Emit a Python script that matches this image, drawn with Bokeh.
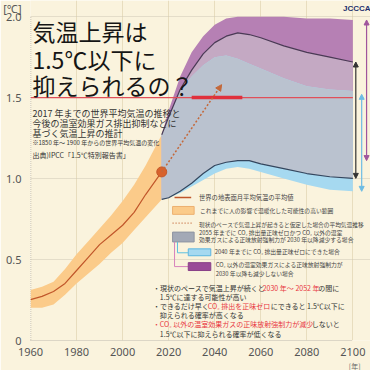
from bokeh.plotting import figure
from bokeh.models import Range1d, FixedTicker, Label, Arrow, NormalHead, CustomJSTickFormatter, Title
from bokeh.embed import file_html
from bokeh.resources import INLINE

# ---------------- data ----------------
x_ticks = [1960, 1980, 2000, 2020, 2040, 2060, 2080, 2100]
y_ticks = [0, 0.5, 1.0, 1.5, 2.0]
y_unit = "[℃]"
x_unit = "[年]"

obs_years = [1960, 1965, 1970, 1975, 1980, 1985, 1990, 1995, 2000, 2005, 2010, 2017]
obs_mean = [0.25, 0.27, 0.30, 0.35, 0.43, 0.51, 0.59, 0.65, 0.71, 0.79, 0.90, 1.04]
band_upper = [0.31, 0.33, 0.36, 0.44, 0.53, 0.61, 0.69, 0.77, 0.86, 0.96, 1.08, 1.27]
band_lower = [0.20, 0.20, 0.22, 0.28, 0.35, 0.41, 0.47, 0.54, 0.60, 0.68, 0.76, 0.87]

proj_years = [2017, 2020, 2025, 2030, 2035, 2040, 2045, 2050, 2055, 2060, 2070, 2080, 2090, 2100]
gray_top = [1.27, 1.38, 1.55, 1.67, 1.77, 1.84, 1.88, 1.90, 1.89, 1.87, 1.82, 1.78, 1.75, 1.72]
gray_bottom = [0.87, 0.88, 0.92, 0.97, 1.03, 1.08, 1.10, 1.11, 1.11, 1.09, 1.06, 1.03, 1.01, 1.00]
blue_top = [1.27, 1.38, 1.54, 1.63, 1.70, 1.75, 1.76, 1.74, 1.71, 1.68, 1.62, 1.57, 1.55, 1.54]
blue_bottom = [0.87, 0.88, 0.91, 0.95, 0.99, 1.03, 1.06, 1.07, 1.06, 1.04, 1.00, 0.96, 0.93, 0.92]
purple_top = [1.27, 1.42, 1.63, 1.78, 1.88, 1.95, 1.99, 2.00, 2.00, 2.00, 2.00, 1.99, 1.99, 1.98]
purple_bottom = [0.87, 0.90, 0.97, 1.04, 1.10, 1.15, 1.18, 1.19, 1.19, 1.18, 1.15, 1.13, 1.12, 1.11]

now_year, now_temp = [2017], [1.04]
rate_years = [2017, 2043]
rate_temps = [1.04, 1.58]
target_years = [1960, 2100]
target_temp = [1.5, 1.5]
reach_years = [2030, 2052]

range2100_gray = [1.00, 1.72]
range2100_blue = [0.92, 1.52]
range2100_purple = [1.11, 1.98]

# ---------------- pixel helpers (layout only) ----------------
X0, PXY = 23, 2.35
Y0, PXV = 344.5, 164.0
def X(px): return 1960 + (px - X0) / PXY
def Y(py): return (Y0 - py) / PXV

def tw(s, size):
    w = 0.0
    for ch in s:
        if ch.isdigit(): w += 0.555
        elif ch == " ": w += 0.224
        elif ch == ".": w += 0.27
        elif ch in "CO": w += 0.69
        elif ch == "₂": w += 0.40
        elif ord(ch) < 128: w += 0.6
        else: w += 1.0
    return w * size

BG = "#FAF3DD"
JP = "Noto Sans CJK JP"

p = figure(width=370, height=370, output_backend="svg", toolbar_location=None,
           x_range=Range1d(1960, X(370)), y_range=Range1d(Y(345), Y(0)),
           min_border_left=23, min_border_right=0, min_border_top=0, min_border_bottom=25,
           background_fill_color=BG, border_fill_color=BG, outline_line_color=None)

# axes
for ax in (p.xaxis[0], p.yaxis[0]):
    ax.axis_line_color = "#BDB6A6"
    ax.axis_line_dash = "1 1"
    ax.major_tick_line_color = None
    ax.minor_tick_line_color = None
    ax.major_label_text_font = "Noto Sans"
    ax.major_label_text_font_size = "11px"
    ax.major_label_text_color = "#555555"
    ax.major_label_standoff = 1
p.xaxis.ticker = FixedTicker(ticks=x_ticks)
p.xaxis.bounds = (x_ticks[0], x_ticks[-1])
unit_tick = Y(6)
p.yaxis.ticker = FixedTicker(ticks=y_ticks + [unit_tick])
p.yaxis.formatter = CustomJSTickFormatter(
    args=dict(unit=y_unit),
    code="if (tick > 2.01) return unit; return tick == 0 ? '0' : tick.toFixed(1);")
p.yaxis.major_label_standoff = 3
p.yaxis.bounds = (0, unit_tick + 0.01)
p.yaxis.axis_line_color = None
p.line([x_ticks[0]] * 2, [y_ticks[0], y_ticks[-1]], line_color="#BDB6A6", line_dash="1 1", line_width=1.5)

p.add_layout(Title(text=x_unit, align="right", offset=10, standoff=0, text_font=JP,
                   text_font_size="7px", text_color="#666666", text_font_style="normal"), "below")

p.xgrid.ticker = FixedTicker(ticks=x_ticks[1:])
p.xgrid.grid_line_color = "#E8DDBE"
p.ygrid.ticker = FixedTicker(ticks=[0.5, 1.0, 2.0])
p.ygrid.grid_line_color = "#CFC7B4"
p.ygrid.grid_line_dash = "1 1"

# observed band + line
p.varea(x=obs_years, y1=band_upper, y2=band_lower, fill_color="#FBCB8A")
p.line(obs_years, obs_mean, line_color="#C0562A", line_width=1.2)

# projection plumes
p.varea(x=proj_years, y1=purple_top, y2=purple_bottom, fill_color="#B680B4")
p.varea(x=proj_years, y1=gray_top, y2=gray_bottom, fill_color="#C4A9C3")
p.varea(x=proj_years, y1=blue_top, y2=blue_bottom, fill_color="#A6D9F0")
p.varea(x=proj_years, y1=blue_top, y2=gray_bottom, fill_color="#BAC2CF")
p.line(proj_years, gray_top, line_color="#4A3A55", line_width=1.2)
p.line(proj_years, gray_bottom, line_color="#34465E", line_width=1.2)

# 1.5 line and 2030-2052 bar
p.line(target_years, target_temp, line_color="#E0505A", line_width=1.3)
p.line(reach_years, [target_temp[0]] * 2, line_color="#E0303C", line_width=3.5)

# current-rate arrow
p.add_layout(Arrow(end=NormalHead(size=6, fill_color="#C4683A", line_color="#C4683A"),
                   x_start=rate_years[0], y_start=rate_temps[0], x_end=rate_years[1], y_end=rate_temps[1],
                   line_color="#C4683A", line_width=1.5, line_dash="2 2"))
p.scatter(now_year, now_temp, size=10, fill_color="#D8622C", line_color="#C4582A")

# 2100 range arrows
for xpx, rng, col in ((355, range2100_gray, "#333333"), (361, range2100_blue, "#6DBCE4"),
                      (366, range2100_purple, "#A0559C")):
    p.add_layout(Arrow(start=NormalHead(size=5, fill_color=col, line_color=col),
                       end=NormalHead(size=5, fill_color=col, line_color=col),
                       x_start=X(xpx), y_start=rng[0], x_end=X(xpx), y_end=rng[1],
                       line_color=col, line_width=1.2))

# ---------------- texts ----------------
def lab(px, py, text, size, color="#333333", align="left", font=JP, style="normal"):
    p.add_layout(Label(x=X(px), y=Y(py), text=text, text_font=font, text_font_size=f"{size}px",
                       text_color=color, text_align=align, text_baseline="middle", text_font_style=style))

lab(356, 8, "JCCCA", 8, "#24306E", "center", "Liberation Sans", "bold")

for py, t in ((31, "気温上昇は"), (59, "1.5℃以下に"), (86, "抑えられるの？")):
    lab(25, py, t, 23, "#151515")

lab(25, 115, "2017 年までの世界平均気温の推移と", 9)
lab(25, 125, "今後の温室効果ガス排出抑制などに", 9)
lab(25, 135, "基づく気温上昇の推計", 9)
lab(25, 144, "※1850 年～ 1900 年からの世界平均気温の変化", 6)
lab(25, 157, "出典)IPCC「1.5℃特別報告書」", 7)

# legend
p.line([X(170), X(187)], [Y(200)] * 2, line_color="#C0562A", line_width=1.5)
p.quad(left=X(168), right=X(190), bottom=Y(217), top=Y(209), fill_color="#FBCB8A", line_color="#EDB070")
p.line([X(168), X(189)], [Y(226)] * 2, line_color="#C4683A", line_width=1.3, line_dash="1 2")
p.quad(left=X(168), right=X(190), bottom=Y(245), top=Y(235), fill_color="#A3A9B6", line_color="#8E94A2")
p.line([X(170), X(170), X(184)], [Y(245), Y(270), Y(270)], line_color="#D783BC", line_width=1)
p.line([X(173), X(173), X(184)], [Y(245), Y(256), Y(256)], line_color="#5CC0DF", line_width=1)
p.quad(left=X(184), right=X(207), bottom=Y(259), top=Y(252), fill_color="#A6D9F0", line_color="#5CB6E0")
p.quad(left=X(184), right=X(207), bottom=Y(274), top=Y(266), fill_color="#9A4C98", line_color="#8A4088")

lg = "#444444"
lab(195, 200, "世界の地表面月平均気温の平均値", 6.3, lg)
lab(196, 213, "これまでに人の影響で温暖化した可能性の高い範囲", 5.8, lg)
lab(195, 227, "現状のペースで気温上昇が起きると仮定した場合の平均気温推移", 5.7, lg)
lab(195, 235, "2055 年までに CO₂ 排出量正味ゼロかつ CO₂ 以外の温室", 5.8, lg)
lab(195, 243, "効果ガスによる正味放射強制力が 2030 年以降減少する場合", 5.8, lg)
lab(211, 255, "2040 年までに CO₂ 排出量正味ゼロにできた場合", 5.8, lg)
lab(212, 268, "CO₂ 以外の温室効果ガスによる正味放射強制力が", 5.8, lg)
lab(212, 277, "2030 年以降も減少しない場合", 5.8, lg)

# bullets: each line = first segment start (px), then following segments placed contiguously
RED = "#E8363F"
BK = "#333333"
FS = 7
bullets = [
    (292, 148, [("・現状のペースで気温上昇が続くと", BK), ("2030 年～ 2052 年", RED), ("の間に", BK)]),
    (301, 155, [("1.5℃に達する可能性が高い", BK)]),
    (310, 148, [("・できるだけ早く", BK), ("CO₂ 排出を正味ゼロ", RED), ("にできると 1.5℃以下に", BK)]),
    (319, 155, [("抑えられる確率が高くなる", BK)]),
    (328, 148, [("・", RED), ("CO₂ 以外の温室効果ガスの正味放射強制力が減少", RED), ("しないと", BK)]),
    (338, 155, [("1.5℃以下に抑えられる確率が低くなる", BK)]),
]
for py, x0, segs in bullets:
    xx = x0
    for t, c in segs:
        lab(xx, py, t, FS, c)
        xx += tw(t, FS)

open("out.html", "w").write(file_html(p, INLINE))
